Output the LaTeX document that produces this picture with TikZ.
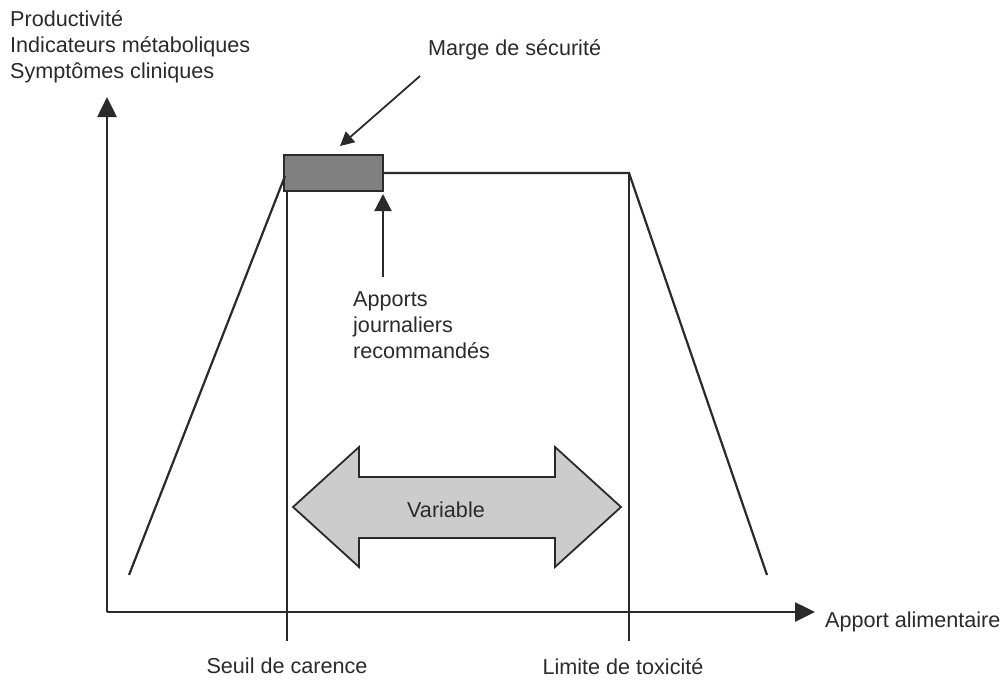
\documentclass[tikz,border=0pt]{standalone}
\usepackage{fontspec}
\setmainfont{Liberation Sans}
\usetikzlibrary{arrows.meta}
\definecolor{ink}{HTML}{2A2A2A}
\begin{document}
\begin{tikzpicture}[x=1pt,y=-1pt,
  every node/.style={font=\fontsize{21.6}{26}\selectfont, text=ink, inner sep=0pt},
  axis/.style={draw=ink, line width=2.6pt, -{Triangle[length=20pt,width=19pt]}},
  curve/.style={draw=ink, line width=2.2pt},
  guide/.style={draw=ink, line width=2pt},
  pointer/.style={draw=ink, line width=2.2pt, -{Triangle[length=17pt,width=17pt]}},
  marge/.style={draw=ink, line width=1.8pt, -{Triangle[length=14pt,width=14pt]}}]
\useasboundingbox (0,0) rectangle (1004,689);
% axes
\coordinate (O) at (107,612);
\coordinate (ytip) at (107,97);
\coordinate (xtip) at (815,612);
\draw[axis] (O) -- (ytip);
\draw[axis] (O) -- (xtip);
\node[anchor=north west, align=left] (ylab) at (10,10) {Productivit\'e\\Indicateurs m\'etaboliques\\Sympt\^omes cliniques};
\node[anchor=west] (xlab) at (825,622) {Apport alimentaire};
% safety margin box
\node[draw=ink, line width=2.2pt, fill=black!50, minimum width=99pt, minimum height=36pt] (box) at (333.5,173) {};
% curve
\coordinate (l0) at (129,575);
\coordinate (ltop) at (285,176);
\coordinate (rtop) at (629,173);
\coordinate (r0) at (767,575);
\draw[curve] (l0) -- (ltop);
\draw[curve] (box.east |- rtop) -- (rtop) -- (r0);
% vertical guides
\coordinate (sb) at (287,641);
\coordinate (lb) at (629,641);
\draw[guide] (box.south west -| sb) -- (sb);
\draw[guide] (rtop) -- (lb);
\node[anchor=north] (seuil) at (287,658) {Seuil de carence};
\node[anchor=north] (limite) at (623,658) {Limite de toxicit\'e};
% marge label
\node[anchor=west] (marge) at (428,50) {Marge de s\'ecurit\'e};
\coordinate (mstart) at (420,76);
\draw[marge] (mstart) -- (340,146);
% AJR
\coordinate (ajr0) at (383,277);
\draw[pointer] (ajr0) -- (383,194);
\node[anchor=north west, align=left] (ajr) at (353,291) {Apports\\journaliers\\recommand\'es};
% double arrow
\draw[draw=ink, line width=1.8pt, fill=black!20]
  (293,507) -- (359,447) -- (359,477) -- (555,477) -- (555,447) -- (621,507)
  -- (555,567) -- (555,538) -- (359,538) -- (359,567) -- cycle;
\node (var) at (446,510) {Variable};
\end{tikzpicture}
\end{document}
